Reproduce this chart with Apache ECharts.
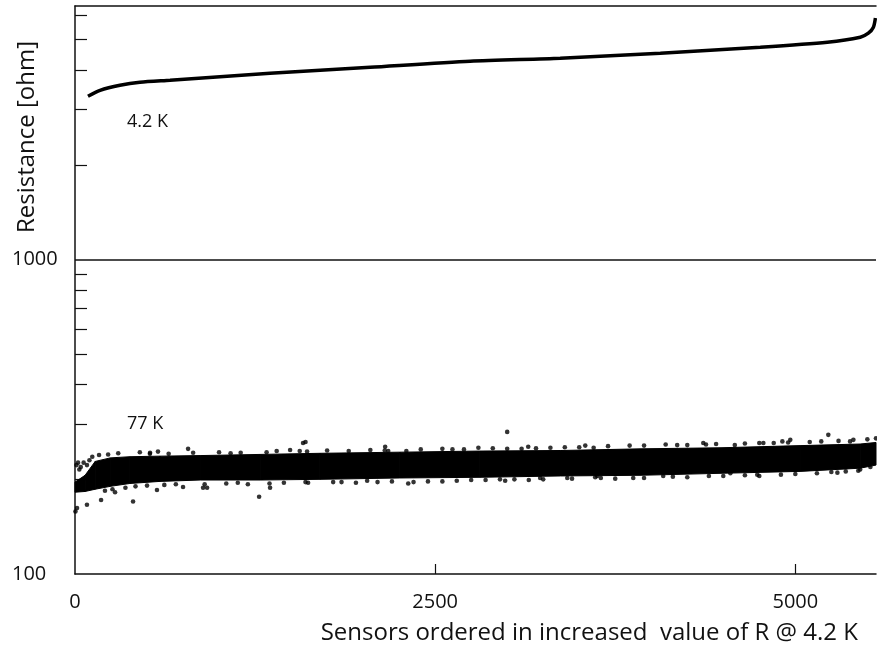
<!DOCTYPE html>
<html>
<head>
<meta charset="utf-8">
<script src="https://cdn.jsdelivr.net/npm/echarts@6/dist/echarts.min.js"></script>
<style>
  html, body { margin: 0; padding: 0; background: #fff; }
  #chart { width: 877px; height: 647px; }
</style>
</head>
<body>
<div id="chart"></div>
<script>
  // 4.2 K curve (sensor index, resistance)
  const coldX = [90, 174, 312, 451, 660, 1354, 2049, 2743, 3368, 4063, 4757, 5222, 5451, 5507, 5542, 5556];
  const coldR = [3305, 3452, 3582, 3662, 3717, 3911, 4087, 4272, 4366, 4529, 4733, 4910, 5093, 5244, 5480, 5859];

  // 77 K: dense band envelope
  const bandX  = [0, 70, 140, 245, 380, 590, 870, 1285, 1700, 2255, 2810, 3370, 3925, 4480, 5035, 5450, 5560];
  const bandHi = [196, 206, 228, 234, 236, 237, 238, 240, 242, 244, 246, 247, 250, 252, 256, 259, 262];
  const bandLo = [182, 183, 186, 190, 194, 197, 199, 199, 200, 202, 203, 205, 206, 209, 212, 217, 222];

  // 77 K: scattered points around the band
  const warmX = [785, 576, 521, 167, 83, 21, 1583, 1493, 1278, 403, 181, 83, 14, 3, 278, 208, 889, 917, 569, 750, 1611, 1354,
    3000, 1600, 2153, 2174, 3146, 3542, 2313, 2986, 1618, 1792, 2028, 3417, 3229, 3611,
    5229, 5403, 4965, 4910, 4361, 4778, 3875, 4083, 5292, 5437, 5521, 4736, 3625, 4549,
    300, 450, 650, 1000, 1150, 1400, 1750, 1900, 2050, 2400, 2550, 2700, 2900, 3100, 3300, 3500, 3700, 3850, 4100, 4250, 4450, 4650, 4850, 5100, 5300, 5500,
    350, 500, 700, 1050, 1200, 1450, 1850, 2100, 2450, 2650, 2850, 3050, 3250, 3750, 4250, 4400, 4650, 4900, 5150, 5350,
    10, 40, 60, 30, 100, 120, 230, 520, 820, 1080, 1330, 1560, 2150, 2300, 2620, 2800, 3000, 3200, 3400, 3600, 3950, 4180, 4380, 4580, 4750, 4950, 5180, 5380, 5560,
    260, 420, 620, 900, 1130, 1350, 1600, 1950, 2200, 2350, 2550, 2750, 2950, 3150, 3450, 3650, 3950, 4150, 4500, 4750, 5000, 5250, 5450];
  const warmR = [250, 245, 243, 239, 222, 226, 261, 248, 176, 170, 172, 166, 162, 158, 182, 184, 188, 188, 185, 189, 245, 188,
    283, 263, 254, 246, 254, 256, 194, 198, 195, 196, 198, 202, 202, 203,
    277, 267, 267, 264, 261, 261, 202, 205, 210, 213, 219, 207, 205, 209,
    242, 244, 241, 244, 243, 246, 247, 246, 248, 249, 250, 249, 251, 250, 252, 253, 255, 256, 258, 257, 259, 260, 261, 263, 265, 268,
    188, 191, 193, 194, 193, 195, 196, 196, 197, 198, 199, 200, 200, 201, 203, 205, 206, 207, 209, 212,
    222, 219, 226, 215, 230, 236, 240, 241, 243, 242, 244, 246, 247, 246, 249, 252, 250, 251, 253, 252, 256, 257, 258, 257, 261, 262, 264, 264, 270,
    186, 190, 192, 193, 195, 194, 196, 195, 197, 196, 197, 199, 200, 199, 201, 202, 202, 204, 205, 205, 208, 211, 215];

  const xTickLabels = [0, 2500, 5000];
  const yTickLabels = [100, 1000];
  const yMinorTicks = [200, 300, 400, 500, 600, 700, 800, 900, 2000, 3000, 4000, 5000, 6000];

  const ink = '#111';
  const font = '"Open Sans", "Noto Sans", sans-serif';

  const chart = echarts.init(document.getElementById('chart'));

  const bandData = bandX.map((x, i) => [x, bandLo[i], bandHi[i]]);

  chart.setOption({
    animation: false,
    backgroundColor: '#fff',
    grid: { left: 75, right: 1, top: 6, bottom: 73 },
    xAxis: [{
      type: 'value', min: 0, max: 5560, interval: 2500,
      axisLine: { lineStyle: { color: ink, width: 1.5 } },
      axisTick: { inside: true, length: 10, customValues: [2500, 5000], lineStyle: { color: ink, width: 1.2 } },
      axisLabel: { customValues: xTickLabels, formatter: v => String(v), color: ink, fontSize: 20, fontFamily: font, margin: 18 },
      splitLine: { show: false }
    }, {
      type: 'value', position: 'top', min: 0, max: 5560,
      axisLine: { show: true, lineStyle: { color: ink, width: 1.5 } },
      axisTick: { show: false }, axisLabel: { show: false }, splitLine: { show: false }
    }],
    yAxis: {
      type: 'log', logBase: 10, min: 100, max: 6400,
      axisLine: { show: true, lineStyle: { color: ink, width: 1.5 } },
      axisTick: { show: true, inside: true, length: 12, customValues: yMinorTicks, lineStyle: { color: ink, width: 1.2 } },
      axisLabel: { customValues: yTickLabels, formatter: v => String(v), color: ink, fontSize: 20, fontFamily: font, align: 'left', margin: 63 },
      splitLine: { show: false },
      minorTick: { show: false }
    },
    graphic: [
      { type: 'text', x: 127, y: 122, style: { text: '4.2 K', font: '18px ' + font, fill: ink, verticalAlign: 'middle' } },
      { type: 'text', x: 127, y: 424, style: { text: '77 K', font: '18px ' + font, fill: ink, verticalAlign: 'middle' } },
      { type: 'text', x: 15, y: 137, rotation: Math.PI / 2,
        style: { text: 'Resistance [ohm]', font: '24px ' + font, fill: ink, align: 'center', verticalAlign: 'top' } },
      { type: 'text', x: 858, y: 633,
        style: { text: 'Sensors ordered in increased  value of R @ 4.2 K', font: '24px ' + font, fill: ink, align: 'right', verticalAlign: 'middle' } }
    ],
    series: [{
      type: 'custom',
      data: bandData,
      encode: { x: 0, y: [1, 2] },
      renderItem: (params, api) => {
        const i = params.dataIndex;
        if (i >= bandData.length - 1) return null;
        const n = bandData[i + 1];
        const pts = [
          api.coord([api.value(0), api.value(2)]),
          api.coord([n[0], n[2]]),
          api.coord([n[0], n[1]]),
          api.coord([api.value(0), api.value(1)])
        ];
        return { type: 'polygon', shape: { points: pts }, style: { fill: '#000', stroke: '#000', lineWidth: 1 } };
      },
      silent: true
    }, {
      type: 'scatter',
      data: warmX.map((x, i) => [x, warmR[i]]),
      symbolSize: 4.6,
      itemStyle: { color: '#000' },
      silent: true
    }, {
      type: 'line',
      data: coldX.map((x, i) => [x, coldR[i]]),
      smooth: 0.25,
      showSymbol: false,
      lineStyle: { color: '#000', width: 3.5 },
      silent: true,
      markLine: {
        silent: true, symbol: 'none', label: { show: false },
        lineStyle: { color: ink, width: 1.5, type: 'solid' },
        data: [{ yAxis: 1000 }]
      }
    }]
  });
</script>
</body>
</html>
